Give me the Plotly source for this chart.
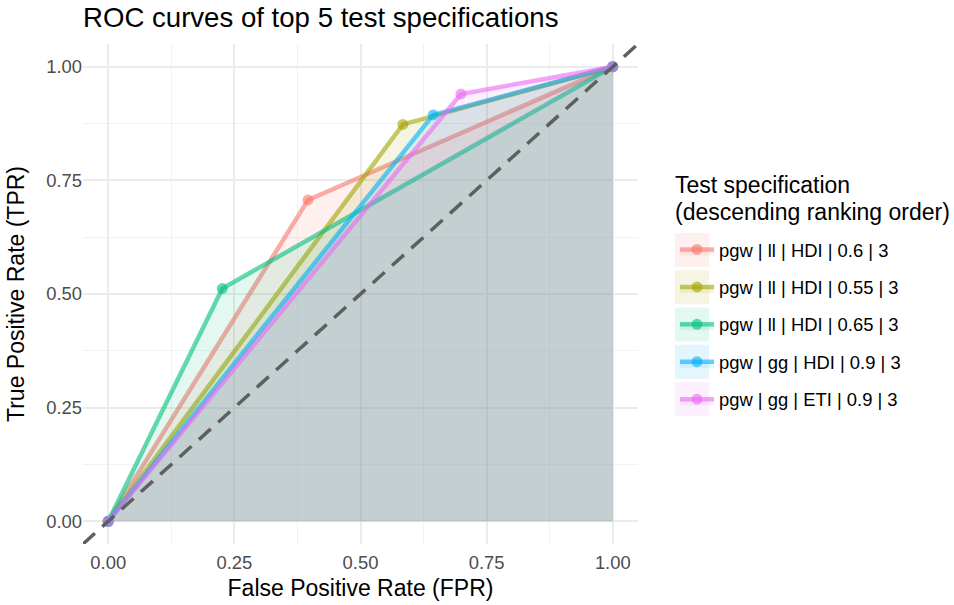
import plotly.graph_objects as go

# ---- data ----
spec_names = [
    "pgw | ll | HDI | 0.6 | 3",
    "pgw | ll | HDI | 0.55 | 3",
    "pgw | ll | HDI | 0.65 | 3",
    "pgw | gg | HDI | 0.9 | 3",
    "pgw | gg | ETI | 0.9 | 3",
]
fpr_values = [
    [0.0, 0.396, 1.0],
    [0.0, 0.584, 1.0],
    [0.0, 0.226, 1.0],
    [0.0, 0.644, 1.0],
    [0.0, 0.699, 1.0],
]
tpr_values = [
    [0.0, 0.707, 1.0],
    [0.0, 0.873, 1.0],
    [0.0, 0.512, 1.0],
    [0.0, 0.894, 1.0],
    [0.0, 0.940, 1.0],
]
tick_vals = [0, 0.25, 0.5, 0.75, 1.0]
tick_text = ["0.00", "0.25", "0.50", "0.75", "1.00"]
diag_x = [-0.05, 1.05]
diag_y = [-0.05, 1.05]

# ---- style ----
colors_rgb = [(248, 118, 109), (163, 165, 0), (0, 191, 125), (0, 176, 246), (231, 107, 243)]
FONT = "Liberation Sans, Arial, sans-serif"

W, H = 954, 605
ML, MR, MT, MB = 83, 316, 44, 61
PW, PH = W - ML - MR, H - MT - MB


def px_x(sx):  # screen x -> paper x
    return (sx - ML) / PW


def px_y(sy):  # screen y -> paper y
    return (H - MB - sy) / PH


fig = go.Figure()
for i, name in enumerate(spec_names):
    r, g, b = colors_rgb[i]
    fig.add_trace(go.Scatter(
        x=fpr_values[i], y=tpr_values[i], name=name,
        mode="lines+markers",
        fill="tozeroy",
        fillcolor=f"rgba({r},{g},{b},0.11)",
        line=dict(color=f"rgba({r},{g},{b},0.6)", width=4.5),
        marker=dict(color=f"rgba({r},{g},{b},0.6)", size=11),
        legendgroup=name,
    ))

fig.add_trace(go.Scatter(
    x=diag_x, y=diag_y, mode="lines", showlegend=False, hoverinfo="skip",
    line=dict(color="#5f5f5f", width=3.5, dash="16px,10px"),
))

axis_common = dict(
    range=[-0.05, 1.05],
    tickvals=tick_vals, ticktext=tick_text,
    showgrid=True, gridcolor="#EBEBEB", gridwidth=2,
    zeroline=False, showline=False, ticks="",
    tickfont=dict(family=FONT, size=18.4, color="#4D4D4D"),
    minor=dict(dtick=0.125, tick0=0, showgrid=True, gridcolor="#F2F2F2", gridwidth=1.2),
    fixedrange=True, automargin=False,
)

# legend key background boxes (ggplot-style keys)
key_gap = 37.25
shapes = []
for i in range(len(spec_names)):
    r, g, b = colors_rgb[i]
    cy = 250 + i * key_gap
    shapes.append(dict(
        type="rect", xref="paper", yref="paper", layer="below",
        x0=px_x(675), x1=px_x(709), y0=px_y(cy + 17), y1=px_y(cy - 17),
        fillcolor=f"rgba({r},{g},{b},0.11)", line=dict(width=0),
    ))

legend_title_lines = ["Test specification", "(descending ranking order)"]
legend_title_y = [185, 212]
annotations = [
    dict(text=t, xref="paper", yref="paper", x=px_x(673), y=px_y(yc),
         xanchor="left", yanchor="middle", align="left", showarrow=False,
         font=dict(family=FONT, size=23, color="black"))
    for t, yc in zip(legend_title_lines, legend_title_y)
]

fig.update_layout(
    width=W, height=H,
    margin=dict(l=ML, r=MR, t=MT, b=MB, autoexpand=False),
    paper_bgcolor="white", plot_bgcolor="white",
    font=dict(family=FONT, color="black"),
    title=dict(text="ROC curves of top 5 test specifications",
               x=ML / W, xref="container", xanchor="left",
               y=1 - 17 / H, yref="container", yanchor="middle",
               font=dict(family=FONT, size=27.6, color="black")),
    xaxis=dict(**axis_common, ticklabelstandoff=6,
               title=dict(text="False Positive Rate (FPR)", standoff=7,
                          font=dict(family=FONT, size=23, color="black"))),
    yaxis=dict(**axis_common,
               title=dict(text="True Positive Rate (TPR)", standoff=15,
                          font=dict(family=FONT, size=23, color="black"))),
    legend=dict(
        x=px_x(675), y=px_y(231), xanchor="left", yanchor="top",
        font=dict(family=FONT, size=18.4, color="black"),
        bgcolor="rgba(0,0,0,0)", borderwidth=0,
        tracegroupgap=10.5, itemwidth=34,
    ),
    shapes=shapes,
    annotations=annotations,
)

fig.write_html(
    "out.html",
    config={"displayModeBar": False},
    post_script="document.body.style.margin='0';document.documentElement.style.overflow='hidden';",
)
